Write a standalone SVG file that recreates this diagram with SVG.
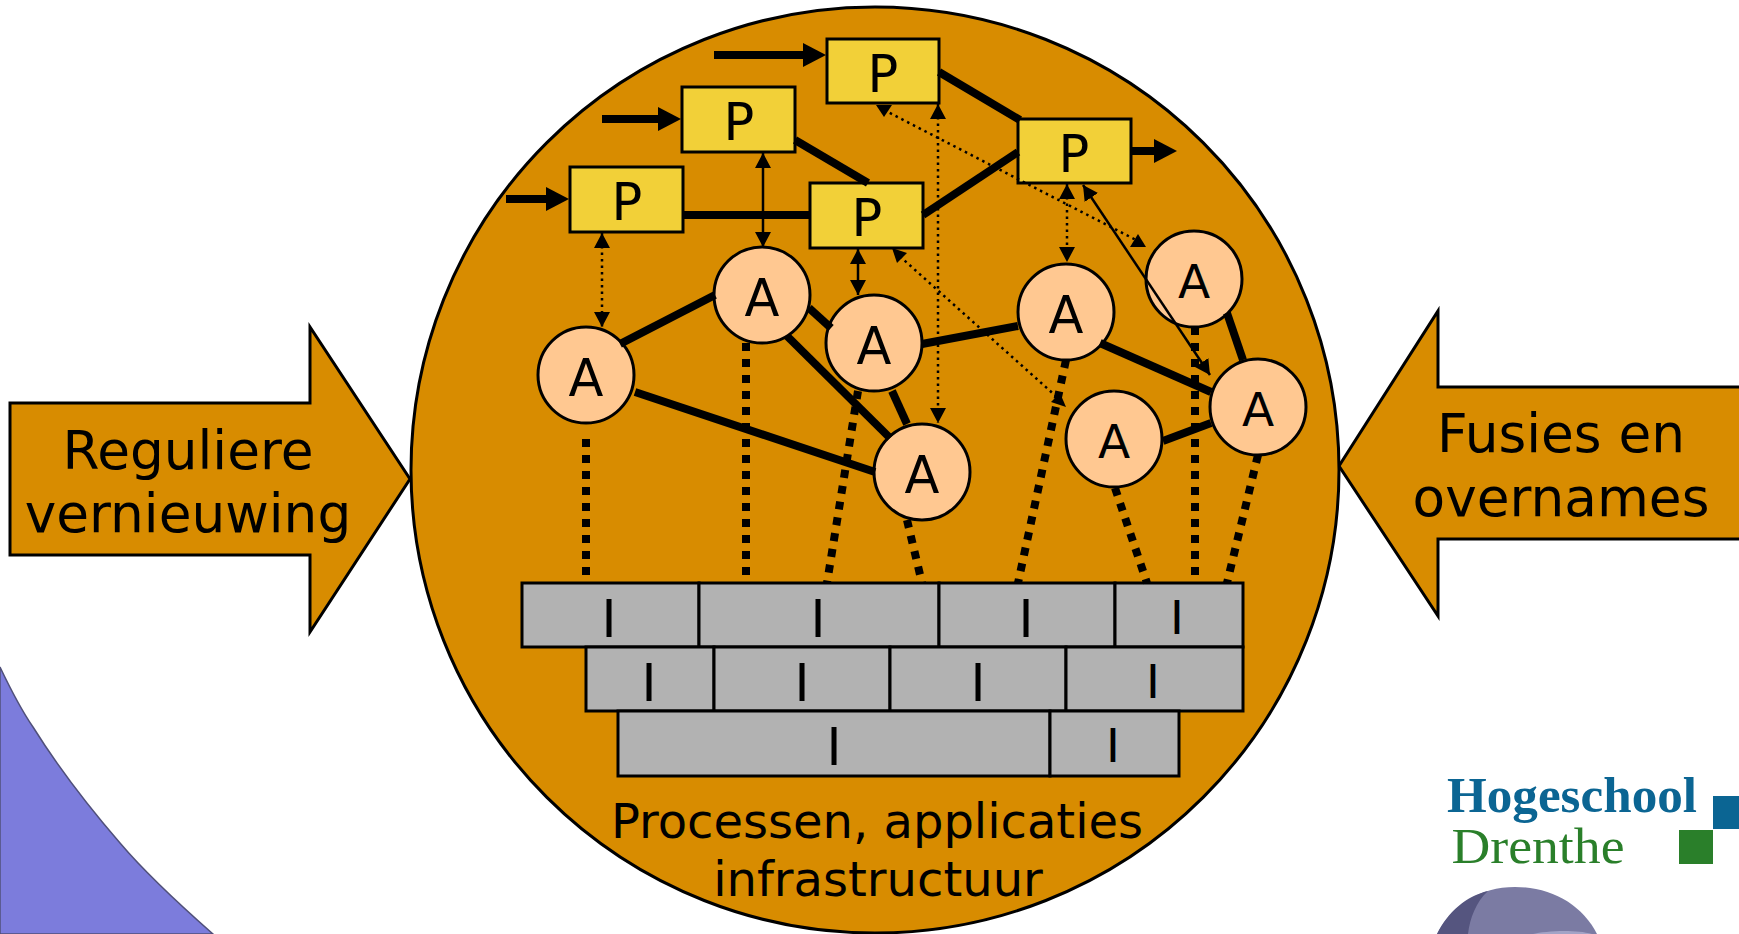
<svg xmlns="http://www.w3.org/2000/svg" width="1739" height="934" viewBox="0 0 1739 934">
<style>
text{font-family:"DejaVu Sans",Verdana,sans-serif;fill:#000;text-anchor:middle}
.lbl{font-size:53.3px}
.cap{font-size:48px}
.sym{font-size:51px}
.brk{fill:#b2b2b2;stroke:#000;stroke-width:3}
.p rect{fill:#f2d038;stroke:#000;stroke-width:3}
.a circle{fill:#ffc891;stroke:#000;stroke-width:3}
.big{fill:#d88c00;stroke:#000;stroke-width:3}
.thick{stroke:#000;stroke-width:8;fill:none}
.flow{stroke:#000;stroke-width:8;fill:none;marker-end:url(#hb)}
.dots{stroke:#000;stroke-width:8;stroke-dasharray:8 8;fill:none}
.thin{stroke:#000;stroke-width:2.5;fill:none;marker-start:url(#hs);marker-end:url(#hs)}
.fine{stroke:#000;stroke-width:2.5;stroke-dasharray:2.5 4;fill:none}
.fineh{marker-start:url(#hs);marker-end:url(#hs)}
</style>
<defs>
<marker id="hb" markerUnits="userSpaceOnUse" markerWidth="24" markerHeight="24" refX="1" refY="12" orient="auto"><path d="M0 0L23 12L0 24Z"/></marker>
<marker id="hs" markerUnits="userSpaceOnUse" markerWidth="16" markerHeight="16" refX="15" refY="8" orient="auto-start-reverse"><path d="M0 0L15 8L0 16Z"/></marker>
</defs>
<g id="bg-shapes">
<path d="M0 667C10 688 20 708 33 727C58 767 88 806 120 843C148 876 180 905 213 934L0 934Z" fill="#7c7cdc" stroke="#50507a" stroke-width="1.5"/>
<path d="M1437 934C1452 905 1480 887 1515 887C1552 887 1582 905 1597 934Z" fill="#7b7ba3"/>
<path d="M1437 934C1448 912 1466 896 1488 891C1476 902 1470 918 1468 934Z" fill="#55557f"/>
<path d="M1533 934C1545 931 1575 929 1592 934Z" fill="#a3a3c6"/>
</g>
<g id="logo">
<text x="1572" y="812" style="font-family:'Liberation Serif',serif;font-size:50px;font-weight:700;fill:#0b6593" textLength="250" lengthAdjust="spacingAndGlyphs">Hogeschool</text>
<text x="1538" y="863" style="font-family:'Liberation Serif',serif;font-size:50px;fill:#2a7f2a" textLength="173" lengthAdjust="spacingAndGlyphs">Drenthe</text>
<rect x="1713" y="796" width="26" height="33" fill="#0b6593"/>
<rect x="1679" y="830" width="34" height="34" fill="#2a7f2a"/>
</g>
<g id="arrow-left">
<path d="M10 403H310V327L410 479L310 632V555H10Z" class="big"/>
<text class="lbl" x="188" y="469">Reguliere</text>
<text class="lbl" x="188" y="532">vernieuwing</text>
</g>
<g id="arrow-right">
<path d="M1739 387H1438V311L1339 466L1438 616V539H1739" class="big"/>
<text class="lbl" x="1561" y="452">Fusies en</text>
<text class="lbl" x="1561" y="516">overnames</text>
</g>
<g id="landscape">
<ellipse cx="875" cy="470" rx="464" ry="463" class="big"/>
<text class="cap" x="877" y="838">Processen, applicaties</text>
<text class="cap" x="878" y="896">infrastructuur</text>
</g>
<g id="infrastructure">
<rect class="brk" x="522" y="583" width="177" height="64"/>
<rect class="brk" x="699" y="583" width="240" height="64"/>
<rect class="brk" x="939" y="583" width="176" height="64"/>
<rect class="brk" x="1115" y="583" width="128" height="64"/>
<rect class="brk" x="586" y="647" width="128" height="64"/>
<rect class="brk" x="714" y="647" width="176" height="64"/>
<rect class="brk" x="890" y="647" width="176" height="64"/>
<rect class="brk" x="1066" y="647" width="177" height="64"/>
<rect class="brk" x="618" y="711" width="432" height="65"/>
<rect class="brk" x="1050" y="711" width="129" height="65"/>
<text class="sym" x="609" y="637">I</text>
<text class="sym" x="818" y="637">I</text>
<text class="sym" x="1026" y="637">I</text>
<text x="1177" y="634" font-size="47">I</text>
<text class="sym" x="649" y="701">I</text>
<text class="sym" x="802" y="701">I</text>
<text class="sym" x="978" y="701">I</text>
<text x="1153" y="698" font-size="47">I</text>
<text class="sym" x="834" y="765">I</text>
<text x="1113" y="762" font-size="47">I</text>
</g>
<g id="p1" class="p"><rect x="827" y="39" width="112" height="64"/><text class="sym" x="883" y="92">P</text></g>
<g id="p2" class="p"><rect x="682" y="87" width="113" height="65"/><text class="sym" x="739" y="140">P</text></g>
<g id="p3" class="p"><rect x="570" y="167" width="113" height="65"/><text class="sym" x="627" y="220">P</text></g>
<g id="p4" class="p"><rect x="810" y="183" width="113" height="65"/><text class="sym" x="867" y="236">P</text></g>
<g id="p5" class="p"><rect x="1018" y="119" width="113" height="64"/><text class="sym" x="1074" y="172">P</text></g>
<g id="a1" class="a"><circle cx="586" cy="375" r="48"/><text class="sym" x="586" y="396">A</text></g>
<g id="a2" class="a"><circle cx="762" cy="295" r="48"/><text class="sym" x="762" y="316">A</text></g>
<g id="a3" class="a"><circle cx="874" cy="343" r="48"/><text class="sym" x="874" y="364">A</text></g>
<g id="a4" class="a"><circle cx="922" cy="472" r="48"/><text class="sym" x="922" y="493">A</text></g>
<g id="a5" class="a"><circle cx="1066" cy="312" r="48"/><text class="sym" x="1066" y="333">A</text></g>
<g id="a6" class="a"><circle cx="1194" cy="279" r="48"/><text x="1194" y="298" font-size="47">A</text></g>
<g id="a7" class="a"><circle cx="1258" cy="407" r="48"/><text x="1258" y="426" font-size="47">A</text></g>
<g id="a8" class="a"><circle cx="1114" cy="439" r="48"/><text x="1114" y="458" font-size="47">A</text></g>
<g id="connectors">
<path class="flow" d="M714 55H804"/>
<path class="flow" d="M602 119H659"/>
<path class="flow" d="M506 199H547"/>
<path class="flow" d="M1131 151H1155"/>
<path class="thick" d="M939 72L1020 120"/>
<path class="thick" d="M795 140L868 183"/>
<path class="thick" d="M683 215H810"/>
<path class="thick" d="M923 215L1018 152"/>
<path class="thick" d="M620 344L715 295"/>
<path class="thick" d="M635 392L875 472"/>
<path class="thick" d="M809 308L831 328"/>
<path class="thick" d="M787 336L890 438"/>
<path class="thick" d="M892 391L907 424"/>
<path class="thick" d="M922 344L1018 326"/>
<path class="thick" d="M1100 343L1211 392"/>
<path class="thick" d="M1163 441L1211 423"/>
<path class="thick" d="M1227 313L1243 360"/>
<path class="dots" d="M586 439V576"/>
<path class="dots" d="M746 343V576"/>
<path class="dots" d="M858 391L827 583"/>
<path class="dots" d="M907 520L922 583"/>
<path class="dots" d="M1066 360L1018 583"/>
<path class="dots" d="M1195 327V576"/>
<path class="dots" d="M1115 488L1147 583"/>
<path class="dots" d="M1258 455L1227 583"/>
<path class="fine fineh" d="M602 233V327"/>
<path class="thin" d="M763 153V247"/>
<path class="thin" d="M858 249V295"/>
<path class="fine fineh" d="M938 104V423"/>
<path class="fine fineh" d="M1067 184V262"/>
<path class="thin" d="M1083 185L1210 375"/>
<path class="fine" d="M884 110L1140 242"/>
<path d="M876 105H892L884 117Z"/>
<path d="M1138 234L1146 247H1130Z"/>
<path class="fine" d="M895 252L1058 398"/>
<path d="M892 248L907 253L897 263Z"/>
<path d="M1066 407L1060 393L1051 402Z"/>
</g>
</svg>
